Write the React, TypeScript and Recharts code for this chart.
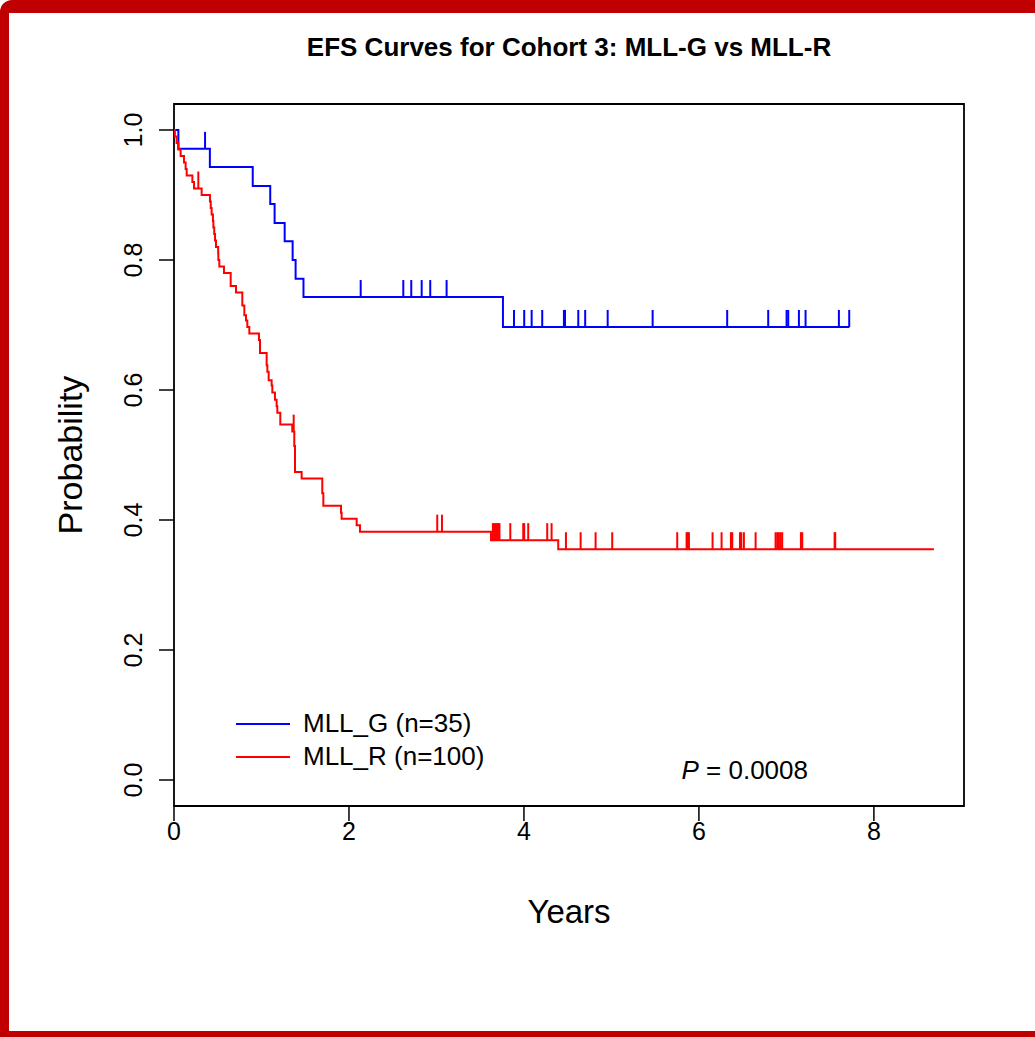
import React from "react";
import {
  ComposedChart,
  Line,
  Scatter,
  XAxis,
  YAxis,
  ReferenceArea,
  Legend,
} from "recharts";

// MLL_G (n=35) step curve: event times (years) and survival after each step
const gTimes = [0, 0.05, 0.41, 0.9, 1.1, 1.15, 1.265, 1.356, 1.39, 1.48, 3.76, 7.72];
const gSurv = [1, 0.971, 0.943, 0.914, 0.886, 0.857, 0.829, 0.8, 0.771, 0.743, 0.697, 0.697];
// MLL_G censored times
const gCensor = [
  0.355, 2.134, 2.621, 2.712, 2.831, 2.929, 3.116, 3.886, 4.003, 4.088, 4.209, 4.457,
  4.469, 4.621, 4.7, 4.957, 5.471, 6.323, 6.792, 7.002, 7.021, 7.143, 7.219, 7.6, 7.718,
];

// MLL_R (n=100) step curve
const rTimes = [
  0, 0.01, 0.03, 0.05, 0.076, 0.114, 0.133, 0.145, 0.21, 0.229, 0.316, 0.411, 0.42, 0.43,
  0.445, 0.45, 0.46, 0.469, 0.48, 0.505, 0.507, 0.518, 0.571, 0.648, 0.709, 0.781, 0.804,
  0.823, 0.838, 0.861, 0.971, 0.983, 1.059, 1.067, 1.082, 1.116, 1.124, 1.154, 1.173, 1.181,
  1.215, 1.352, 1.375, 1.383, 1.459, 1.695, 1.707, 1.909, 1.916, 2.088, 2.126, 3.623, 4.392,
  8.686,
];
const rSurv = [
  1, 0.99, 0.98, 0.97, 0.96, 0.95, 0.94, 0.93, 0.92, 0.91, 0.9, 0.89, 0.88, 0.87, 0.86, 0.85,
  0.84, 0.83, 0.82, 0.81, 0.8, 0.79, 0.78, 0.76, 0.75, 0.73, 0.715, 0.707, 0.697, 0.687, 0.677,
  0.657, 0.638, 0.628, 0.615, 0.607, 0.596, 0.585, 0.575, 0.565, 0.547, 0.536, 0.514, 0.474,
  0.464, 0.441, 0.422, 0.411, 0.402, 0.392, 0.382, 0.369, 0.355, 0.355,
];
// MLL_R censored times
const rCensor = [
  0.278, 1.368, 3.009, 3.063, 3.645, 3.66, 3.675, 3.69, 3.705, 3.72, 3.844, 3.992, 4.003,
  4.049, 4.266, 4.316, 4.48, 4.648, 4.819, 5.009, 5.752, 5.859, 5.87, 5.886, 6.156, 6.259,
  6.366, 6.381, 6.469, 6.484, 6.514, 6.648, 6.876, 6.895, 6.914, 6.933, 6.952, 7.166, 7.181,
  7.551, 7.558,
];

const xTicks = [0, 2, 4, 6, 8];
const yTicks = [0, 0.2, 0.4, 0.6, 0.8, 1.0];
const legendNames = ["MLL_G (n=35)", "MLL_R (n=100)"];

const BLUE = "#0000FF";
const RED = "#FF0000";
const FONT = "'Liberation Sans', Arial, sans-serif";

const toCurve = (times: number[], surv: number[]) =>
  times.map((t, i) => ({ t, s: surv[i] }));

// survival level of a step curve at time t (for placing censor marks)
const levelAt = (times: number[], surv: number[], t: number) => {
  let v = surv[0];
  for (let i = 0; i < times.length; i++) {
    if (times[i] <= t) v = surv[i];
  }
  return v;
};

const toMarks = (censor: number[], times: number[], surv: number[]) =>
  censor.map((t) => ({ t, s: levelAt(times, surv, t) }));

const gCurve = toCurve(gTimes, gSurv);
const rCurve = toCurve(rTimes, rSurv);
const gMarks = toMarks(gCensor, gTimes, gSurv);
const rMarks = toMarks(rCensor, rTimes, rSurv);

const censorShape = (color: string) => (props: any) => (
  <line
    x1={props.cx}
    x2={props.cx}
    y1={props.cy}
    y2={props.cy - 17}
    stroke={color}
    strokeWidth={2}
  />
);

const YTick = (props: any) => {
  const { x, y, payload } = props;
  return (
    <text
      x={x}
      y={y}
      transform={`rotate(-90 ${x} ${y})`}
      textAnchor="middle"
      dominantBaseline="central"
      fontSize={25}
      fontFamily={FONT}
      fill="#000"
    >
      {Number(payload.value).toFixed(1)}
    </text>
  );
};

const XTick = (props: any) => {
  const { x, y, payload } = props;
  return (
    <text
      x={x}
      y={y}
      textAnchor="middle"
      dominantBaseline="central"
      fontSize={25}
      fontFamily={FONT}
      fill="#000"
    >
      {payload.value}
    </text>
  );
};

const LegendBox = () => {
  const colors = [BLUE, RED];
  return (
    <div style={{ fontFamily: FONT, fontSize: 26, color: "#000" }}>
      {legendNames.map((name, i) => (
        <div
          key={name}
          style={{ display: "flex", alignItems: "center", height: 33 }}
        >
          <div
            style={{
              width: 54,
              height: 2,
              background: colors[i],
              marginRight: 13,
            }}
          />
          <span style={{ lineHeight: "33px", whiteSpace: "nowrap" }}>{name}</span>
        </div>
      ))}
    </div>
  );
};

export default function App() {
  return (
    <div
      style={{
        position: "absolute",
        left: 0,
        top: 0,
        width: 1035,
        height: 1037,
        background: "#fff",
        fontFamily: FONT,
      }}
    >
      {/* red frame */}
      <div
        style={{
          position: "absolute",
          left: 0,
          top: 0,
          width: 1035,
          height: 1037,
          boxSizing: "border-box",
          borderTop: "13px solid #C00000",
          borderLeft: "9px solid #C00000",
          borderBottom: "6px solid #C00000",
          borderTopLeftRadius: 12,
        }}
      />

      <div style={{ position: "absolute", left: 0, top: 0 }}>
        <ComposedChart
          width={1035}
          height={1037}
          margin={{ top: 104, right: 71, left: 114, bottom: 171 }}
        >
          <XAxis
            dataKey="t"
            type="number"
            domain={[0, 9.03]}
            ticks={xTicks}
            allowDataOverflow
            axisLine={false}
            tickLine={{ stroke: "#000", strokeWidth: 1.5 }}
            tickSize={15}
            tickMargin={10}
            tick={<XTick />}
            height={60}
          />
          <YAxis
            type="number"
            domain={[-0.04, 1.04]}
            ticks={yTicks}
            allowDataOverflow
            axisLine={false}
            tickLine={{ stroke: "#000", strokeWidth: 1.5 }}
            tickSize={15}
            tickMargin={26}
            tick={<YTick />}
            width={60}
          />

          <Line
            data={gCurve}
            dataKey="s"
            type="stepAfter"
            stroke={BLUE}
            strokeWidth={2}
            dot={false}
            activeDot={false}
            isAnimationActive={false}
          />
          <Line
            data={rCurve}
            dataKey="s"
            type="stepAfter"
            stroke={RED}
            strokeWidth={2}
            dot={false}
            activeDot={false}
            isAnimationActive={false}
          />
          <Scatter
            data={gMarks}
            dataKey="s"
            shape={censorShape(BLUE)}
            isAnimationActive={false}
          />
          <Scatter
            data={rMarks}
            dataKey="s"
            shape={censorShape(RED)}
            isAnimationActive={false}
          />

          <ReferenceArea
            x1={0}
            x2={9.03}
            y1={-0.04}
            y2={1.04}
            fill="none"
            stroke="#000"
            strokeWidth={1.8}
            ifOverflow="visible"
          />

          <Legend
            layout="vertical"
            align="center"
            verticalAlign="middle"
            content={<LegendBox />}
            wrapperStyle={{ position: "absolute", left: 236, top: 707, width: 300 }}
          />
        </ComposedChart>
      </div>

      {/* title */}
      <div
        style={{
          position: "absolute",
          left: 569,
          top: 47,
          transform: "translate(-50%, -50%)",
          fontWeight: "bold",
          fontSize: 26,
          whiteSpace: "nowrap",
        }}
      >
        EFS Curves for Cohort 3: MLL-G vs MLL-R
      </div>

      {/* axis titles */}
      <div
        style={{
          position: "absolute",
          left: 569,
          top: 912,
          transform: "translate(-50%, -50%)",
          fontSize: 33,
          whiteSpace: "nowrap",
        }}
      >
        Years
      </div>
      <div
        style={{
          position: "absolute",
          left: 70,
          top: 455,
          transform: "translate(-50%, -50%) rotate(-90deg)",
          fontSize: 34,
          whiteSpace: "nowrap",
        }}
      >
        Probability
      </div>

      {/* p-value */}
      <div
        style={{
          position: "absolute",
          right: 1035 - 808,
          top: 770,
          transform: "translateY(-50%)",
          fontSize: 26,
          whiteSpace: "nowrap",
        }}
      >
        <span style={{ fontStyle: "italic" }}>P</span> = 0.0008
      </div>
    </div>
  );
}
